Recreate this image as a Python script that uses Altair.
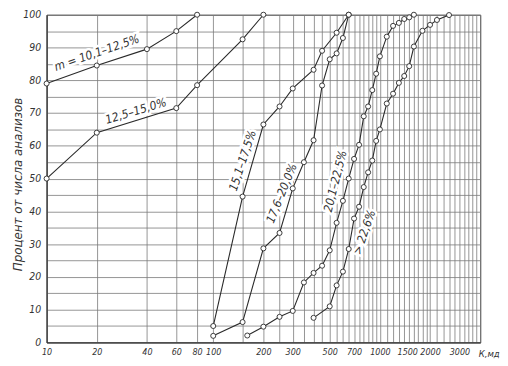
import altair as alt
import pandas as pd

# ---- data: permeability K (md) vs cumulative percent of analyses ----
s1_k = [10, 20, 40, 60, 80]
s1_p = [79, 84.5, 89.5, 95, 100]

s2_k = [10, 20, 60, 80, 150, 200]
s2_p = [50, 64, 71.5, 78.5, 92.5, 100]

s3_k = [100, 150, 200, 250, 300, 400, 450, 550, 650]
s3_p = [5, 44.5, 66.5, 72, 77.5, 83.2, 89, 94.5, 100]

s4_k = [100, 150, 200, 250, 300, 350, 400, 450, 500, 550, 600, 650]
s4_p = [2, 6.2, 28.7, 33.4, 47, 55, 61.7, 78.4, 86.4, 88.2, 92.9, 100]

s5_k = [160, 200, 250, 300, 350, 400, 450, 500, 550, 600, 650, 700, 750, 800,
        850, 900, 950, 1000, 1100, 1200, 1300, 1400, 1500, 1600]
s5_p = [2.1, 4.8, 7.8, 9.6, 18.3, 21.2, 23.4, 28.1, 36.5, 43.2, 50, 56, 60.3, 69,
        72, 77, 82, 87.3, 93.3, 96.6, 97.5, 98.7, 99.2, 100]

s6_k = [400, 500, 550, 600, 650, 700, 750, 800, 850, 900, 950, 1000, 1100, 1200,
        1300, 1400, 1500, 1600, 1800, 2000, 2200, 2600]
s6_p = [7.5, 11, 17.4, 21.6, 28.5, 37.8, 41.4, 47.4, 51.9, 55.5, 61.5, 65, 72.9, 75.9,
        79.2, 81.3, 84.3, 90.3, 95.1, 96.9, 98.4, 99.9]

series_names = ["s1", "s2", "s3", "s4", "s5", "s6"]
series_k = [s1_k, s2_k, s3_k, s4_k, s5_k, s6_k]
series_p = [s1_p, s2_p, s3_p, s4_p, s5_p, s6_p]

lab_text = ["m = 10,1–12,5%", "12,5–15,0%", "15,1–17,5%", "17,6–20,0%", "20,1–22,5%", "> 22,6%"]
lab_k = [20.0, 34.3, 150, 257, 540, 805]
lab_p = [88.4, 70.6, 55.5, 45.5, 49.2, 33.6]
lab_angle = [341, 343, 288, 292, 284, 289]

x_labels = [10, 20, 40, 60, 80, 100, 200, 300, 500, 700, 1000, 1500, 2000, 3000]
x_grid = ([10, 20, 40, 60, 80, 100, 150]
          + list(range(200, 1001, 50))
          + list(range(1100, 2001, 100))
          + list(range(2200, 4001, 200)))
y_grid = list(range(0, 101, 5))

rows = []
for name, ks, ps in zip(series_names, series_k, series_p):
    for k, p in zip(ks, ps):
        rows.append({"series": name, "k": k, "p": p})
df = pd.DataFrame(rows)
lab_df = pd.DataFrame({"text": lab_text, "k": lab_k, "p": lab_p, "angle": lab_angle})

TICK_FONT = "DejaVu Sans Condensed, Liberation Sans Narrow, Liberation Sans, sans-serif"
INK = "#2a2a2a"

x_enc = alt.X(
    "k:Q",
    scale=alt.Scale(type="log", domain=[10, 4000], nice=False),
    axis=alt.Axis(
        values=x_grid,
        format="d",
        labelExpr="indexof(" + str(x_labels) + ", datum.value) >= 0 ? datum.label : ''",
        grid=True, gridColor="#7a7a7a", gridWidth=0.8,
        ticks=False, domain=True, domainColor=INK,
        labelFlush=False, labelOverlap=False,
        labelFont=TICK_FONT, labelFontSize=9, labelFontStyle="italic",
        labelColor="#333", labelPadding=5, labelBaseline="top",
        labelOffset={"condition": {"test": "datum.value == 1500", "value": -2},
                     "value": 0},
        title="К,мд", titleX=436, titleY=6, titleAlign="left", titleBaseline="top",
        titleFont=TICK_FONT, titleFontSize=9.5, titleFontStyle="italic",
        titleFontWeight="normal", titleColor="#333",
    ),
)
y_enc = alt.Y(
    "p:Q",
    scale=alt.Scale(domain=[0, 100], nice=False),
    axis=alt.Axis(
        values=y_grid,
        labelExpr="datum.value % 10 == 0 ? datum.label : ''",
        grid=True, gridColor="#7a7a7a", gridWidth=0.8,
        ticks=False, domain=True, domainColor=INK,
        labelFont=TICK_FONT, labelFontSize=10.5, labelFontStyle="italic",
        labelColor="#333", labelPadding=6,
        title="Процент от числа анализов", titleX=-29, titleY=171,
        titleAngle=270, titleAlign="center", titleBaseline="middle",
        titleFont="DejaVu Sans", titleFontSize=12, titleFontStyle="italic",
        titleFontWeight="normal", titleColor="#333",
    ),
)

halo = alt.Chart(lab_df).mark_text(
    align="center", baseline="middle", font=TICK_FONT, fontSize=12,
    fontStyle="italic", fill="white", stroke="white", strokeWidth=5,
).encode(x=x_enc, y=y_enc, text="text:N", angle=alt.Angle("angle:Q", scale=None))

lines = alt.Chart(df).mark_line(color=INK, strokeWidth=1.1).encode(
    x=x_enc, y=y_enc, detail="series:N"
)
points = alt.Chart(df).mark_point(
    shape="circle", filled=True, fill="white", stroke=INK, strokeWidth=0.9,
    size=26, opacity=1,
).encode(x=x_enc, y=y_enc, detail="series:N")

texts = alt.Chart(lab_df).mark_text(
    align="center", baseline="middle", font=TICK_FONT, fontSize=12,
    fontStyle="italic", color="#333",
).encode(x=x_enc, y=y_enc, text="text:N", angle=alt.Angle("angle:Q", scale=None))

chart = alt.layer(halo, lines, points, texts).properties(
    width=438, height=331,
    autosize=alt.AutoSizeParams(type="none"),
    padding={"left": 39, "top": 5, "right": 20, "bottom": 18},
    background="white",
).configure_view(stroke="#444", strokeWidth=1)

chart.save("out.html", embed_options={"renderer": "svg", "actions": False})
